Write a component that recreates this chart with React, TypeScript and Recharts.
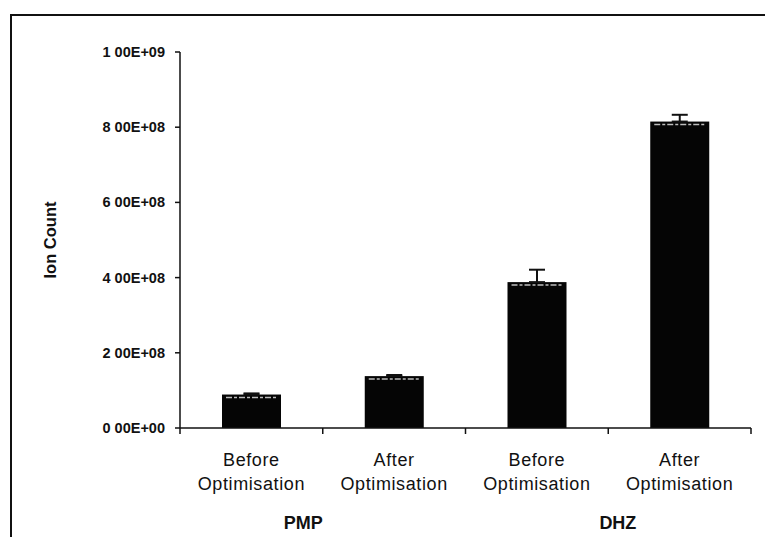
import React from "react";
import { BarChart, Bar, XAxis, YAxis, ErrorBar } from "recharts";

const categoriesTop = ["Before", "After", "Before", "After"];
const categoriesBottom = ["Optimisation", "Optimisation", "Optimisation", "Optimisation"];
const groups = ["PMP", "", "DHZ", ""];
const ionCount = [8.9e7, 1.38e8, 3.88e8, 8.15e8];
const ionError = [3e6, 3e6, 3.3e7, 1.8e7];
const yTicks = [0, 2e8, 4e8, 6e8, 8e8, 1e9];
const yTickLabels = ["0 00E+00", "2 00E+08", "4 00E+08", "6 00E+08", "8 00E+08", "1 00E+09"];

const data = ionCount.map((v, i) => ({
  name: `${categoriesTop[i]} ${categoriesBottom[i]} ${i}`,
  top: categoriesTop[i],
  bottom: categoriesBottom[i],
  group: groups[i],
  value: v,
  err: [0, ionError[i]],
}));

const FONT = "'Liberation Sans', Arial, Helvetica, sans-serif";
const groupShift = [52, 0, 81, 0];

const XTick = (props: any) => {
  const { x, y, payload, index } = props;
  const d = data[index];
  const off = payload && typeof payload.offset === "number" && payload.offset > 0 ? payload.offset : 71;
  const axisY = y - 6;
  return (
    <g>
      <line x1={x - off} x2={x - off} y1={axisY} y2={axisY + 6} stroke="#111" strokeWidth={1.5} />
      {index === data.length - 1 && (
        <line x1={x + off} x2={x + off} y1={axisY} y2={axisY + 6} stroke="#111" strokeWidth={1.5} />
      )}
      <text x={x} y={axisY + 38} textAnchor="middle" fontFamily={FONT} fontSize={18} letterSpacing={0.6} fill="#111">
        {d.top}
      </text>
      <text x={x} y={axisY + 62} textAnchor="middle" fontFamily={FONT} fontSize={18} letterSpacing={0.6} fill="#111">
        {d.bottom}
      </text>
      {d.group && (
        <text x={x + groupShift[index]} y={axisY + 101} textAnchor="middle" fontFamily={FONT} fontSize={18} fontWeight="bold" fill="#111">
          {d.group}
        </text>
      )}
    </g>
  );
};

const YTick = (props: any) => {
  const { x, y, payload } = props;
  const i = yTicks.indexOf(payload.value);
  return (
    <text x={x} y={y} dy={5} textAnchor="end" fontFamily={FONT} fontSize={14.5} fontWeight="bold" fill="#111">
      {i >= 0 ? yTickLabels[i] : ""}
    </text>
  );
};

const BarShape = (props: any) => {
  const { x, y, width, height } = props;
  if (height <= 0) return null;
  return (
    <g>
      <rect x={x} y={y} width={width} height={height} fill="#050505" />
      <line x1={x + 4} x2={x + width - 4} y1={y + 3} y2={y + 3} stroke="#bdbdbd" strokeWidth={1.5} strokeDasharray="6 2 3 2" />
    </g>
  );
};

const YLabel = (props: any) => {
  const vb = props.viewBox || { x: 0, y: 52, width: 180, height: 376 };
  const cx = 50;
  const cy = vb.y + vb.height / 2;
  return (
    <text x={cx} y={cy} transform={`rotate(-90, ${cx}, ${cy})`} textAnchor="middle" dominantBaseline="central" fontFamily={FONT} fontSize={16.5} fontWeight="bold" fill="#111">
      Ion Count
    </text>
  );
};

export default function App() {
  return (
    <div style={{ position: "absolute", left: 0, top: 0, width: 765, height: 537, overflow: "hidden", background: "#fff" }}>
      <div
        style={{
          position: "absolute",
          left: 10,
          top: 14,
          width: 900,
          height: 700,
          borderLeft: "2px solid #111",
          borderTop: "2px solid #111",
        }}
      />
      <div style={{ position: "absolute", left: 0, top: 0 }}>
        <BarChart
          width={765}
          height={537}
          data={data}
          margin={{ top: 52, right: 14, left: 0, bottom: 9 }}
          barSize={59}
        >
          <XAxis
            dataKey="name"
            interval={0}
            height={100}
            tickLine={false}
            tickSize={6}
            tickMargin={0}
            axisLine={{ stroke: "#111", strokeWidth: 1.5 }}
            tick={<XTick />}
          />
          <XAxis xAxisId="top" dataKey="name" orientation="top" height={0} tick={false} tickLine={false} axisLine={{ stroke: "#111", strokeWidth: 1.5 }} />
          <YAxis
            domain={[0, 1e9]}
            ticks={yTicks}
            width={180}
            tickSize={5}
            tickMargin={10}
            interval={0}
            axisLine={{ stroke: "#111", strokeWidth: 1.5 }}
            tickLine={{ stroke: "#111", strokeWidth: 1.5 }}
            tick={<YTick />}
            label={<YLabel />}
          />
          <YAxis yAxisId="r" orientation="right" domain={[0, 1e9]} width={0} tick={false} tickLine={false} axisLine={{ stroke: "#111", strokeWidth: 1.5 }} />
          <Bar dataKey="value" isAnimationActive={false} shape={<BarShape />}>
            <ErrorBar dataKey="err" width={8} stroke="#111" strokeWidth={2} direction="y" />
          </Bar>
        </BarChart>
      </div>
    </div>
  );
}
